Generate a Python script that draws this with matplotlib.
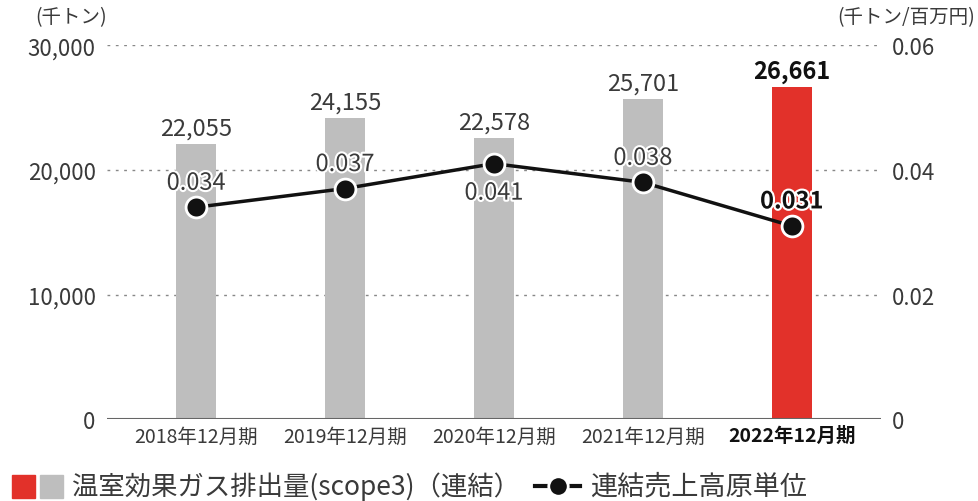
import numpy as np
import matplotlib.pyplot as plt
import matplotlib.patheffects as pe
from matplotlib.patches import Rectangle
from matplotlib.lines import Line2D

plt.rcParams['font.family'] = ['Noto Sans CJK JP', 'DejaVu Sans']

years = ['2018年12月期', '2019年12月期', '2020年12月期', '2021年12月期', '2022年12月期']
emissions = [22055, 24155, 22578, 25701, 26661]
intensity = [0.034, 0.037, 0.041, 0.038, 0.031]
label_below = [False, False, True, False, False]

red = '#E2312A'
gray = '#BEBEBE'
txt = '#3A3A3A'

fig = plt.figure(figsize=(9.79, 5.02), dpi=100)
ax = fig.add_axes([0.109, 0.163, 0.791, 0.745])
ax2 = ax.twinx()

x = np.arange(len(years))
colors = [gray] * (len(years) - 1) + [red]
ax.bar(x, emissions, width=0.27, color=colors, zorder=2)

ax.set_xlim(-0.6, len(years) - 0.4)
ax.set_ylim(0, 30000)
ax2.set_ylim(0, 0.06)
ax.set_yticks([0, 10000, 20000, 30000])
ax.set_yticklabels(['0', '10,000', '20,000', '30,000'])
ax2.set_yticks([0, 0.02, 0.04, 0.06])
ax2.set_yticklabels(['0', '0.02', '0.04', '0.06'])
for a in (ax, ax2):
    for s in a.spines.values():
        s.set_visible(False)
    a.tick_params(length=0, labelsize=16, labelcolor=txt)
ax.tick_params(axis='y', pad=8)
ax2.tick_params(axis='y', pad=8)
for v in [10000, 20000, 30000]:
    ax.axhline(v, color='#888888', lw=1, ls=(0, (2, 4)), zorder=1)
ax.axhline(0, color='#666666', lw=1.5, zorder=3)

ax.set_xticks(x)
ax.set_xticklabels(years, fontsize=14, color=txt)
ax.get_xticklabels()[-1].set_fontweight('bold')
ax.get_xticklabels()[-1].set_color('#111111')
ax.tick_params(axis='x', pad=5)

for i, v in enumerate(emissions):
    last = i == len(years) - 1
    ax.annotate(f'{v:,}', (x[i], v), xytext=(0, 3), textcoords='offset points',
                ha='center', va='bottom', fontsize=17,
                color='#111111' if last else txt,
                fontweight='bold' if last else 'normal')

ax2.plot(x, intensity, color='#111111', lw=2.5, marker='o', ms=15,
         mfc='#111111', mec='white', mew=2, zorder=5)
for i, v in enumerate(intensity):
    last = i == len(years) - 1
    dy = -13 if label_below[i] else 9
    ax2.annotate(f'{v:.3f}', (x[i], v), xytext=(0, dy), textcoords='offset points',
                 ha='center', va='top' if label_below[i] else 'bottom', fontsize=17,
                 color='#111111' if last else txt,
                 fontweight='bold' if last else 'normal', zorder=6,
                 path_effects=[pe.withStroke(linewidth=3, foreground='white')])

fig.text(35 / 979, 1 - 18 / 502, '(千トン)', fontsize=14, color=txt, va='center', ha='left')
fig.text(975 / 979, 1 - 18 / 502, '(千トン/百万円)', fontsize=14, color=txt, va='center', ha='right')

# legend
ly = 1 - 487 / 502
sw = 23 / 979
sh = 23 / 502
fig.add_artist(Rectangle((12 / 979, ly - sh / 2), sw, sh, transform=fig.transFigure, color=red))
fig.add_artist(Rectangle((40 / 979, ly - sh / 2), sw, sh, transform=fig.transFigure, color=gray))
fig.text(72 / 979, ly, '温室効果ガス排出量(scope3)（連結）', fontsize=19, color=txt, va='center', ha='left')
fig.add_artist(Line2D([535 / 979, 580 / 979], [ly, ly], transform=fig.transFigure,
                      color='#111111', lw=3))
fig.add_artist(Line2D([558 / 979], [ly], transform=fig.transFigure, marker='o', ms=14,
                      mfc='#111111', mec='white', mew=2, color='#111111'))
fig.text(590 / 979, ly, '連結売上高原単位', fontsize=19.5, color=txt, va='center', ha='left')

fig.savefig('out.png', dpi=100)
